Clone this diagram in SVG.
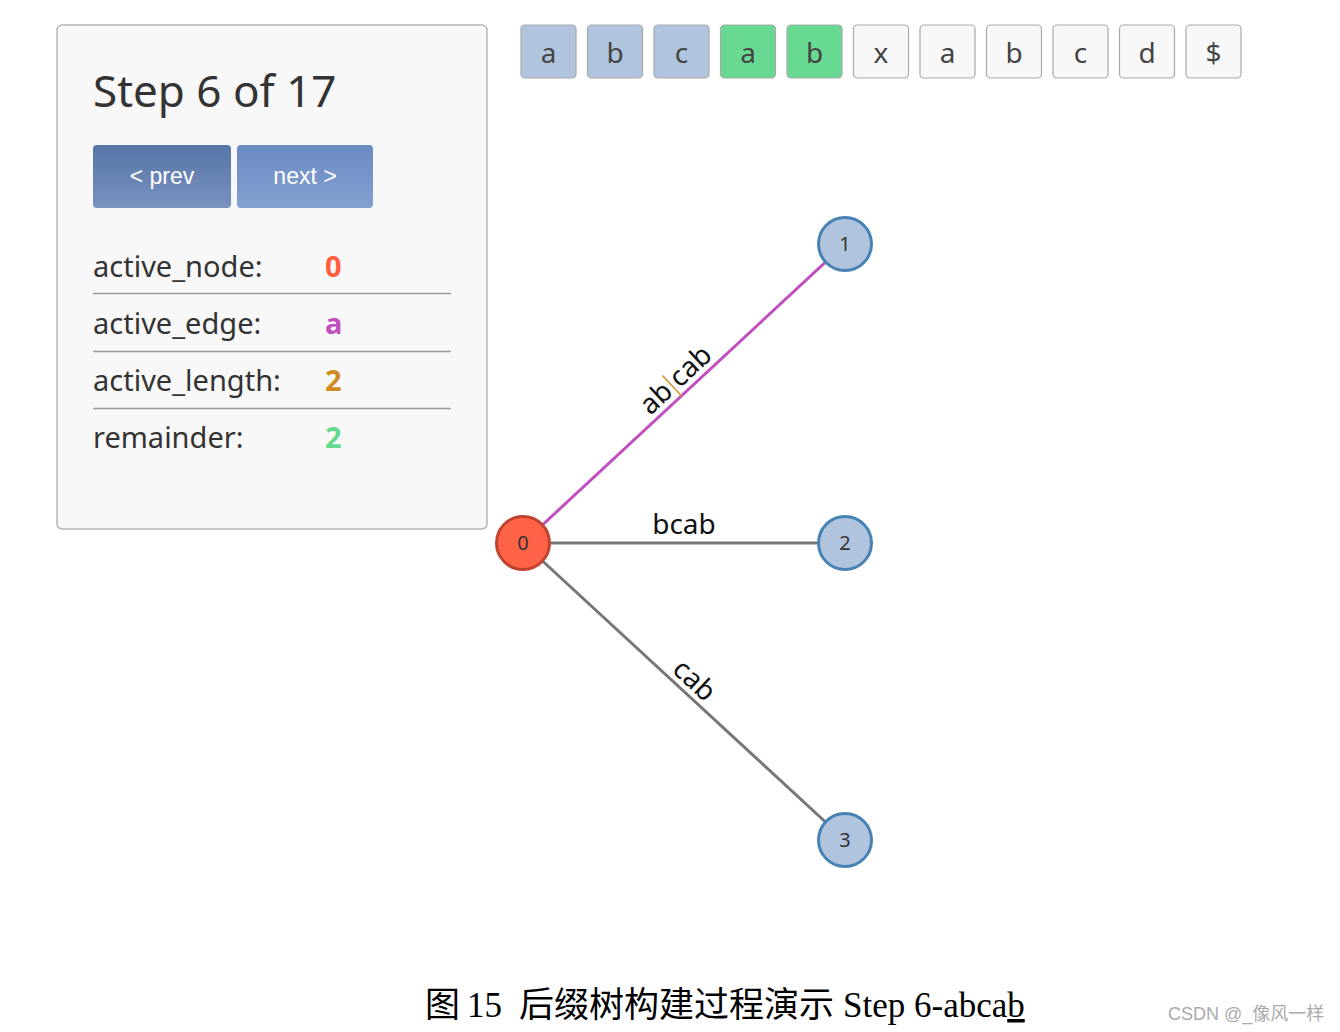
<svg xmlns="http://www.w3.org/2000/svg" width="1340" height="1032" viewBox="0 0 1340 1032">
<style>
.ui{font-family:"Noto Sans","Open Sans",sans-serif;fill:#333}
.btn{font-family:"Liberation Sans",Arial,sans-serif;font-size:23px;fill:#fff;text-anchor:middle}
.row{font-size:29px}
.val{font-family:"Noto Sans",sans-serif;font-size:29px;font-weight:bold}
.sep{stroke:#999;stroke-width:1.5}
.cell{stroke:#aaa;stroke-width:1.2}
.ctext{font-family:"Noto Sans",sans-serif;font-size:28px;fill:#444;text-anchor:middle}
.leaf{fill:#b0c4de;stroke:#4682b4;stroke-width:3}
.ntext{font-family:"Noto Sans",sans-serif;font-size:20px;fill:#333;text-anchor:middle}
.edge{stroke-width:3;fill:none}
.elabel{font-family:"Noto Sans",sans-serif;font-size:28px;fill:#111;text-anchor:middle}
</style>
<defs>
<linearGradient id="gPrev" x1="0" y1="0" x2="0" y2="1"><stop offset="0" stop-color="#5675a8"/><stop offset="1" stop-color="#7a92c0"/></linearGradient>
<linearGradient id="gNext" x1="0" y1="0" x2="0" y2="1"><stop offset="0" stop-color="#6a8ac2"/><stop offset="1" stop-color="#84a0d0"/></linearGradient>
</defs>
<rect width="1340" height="1032" fill="#fff"/>

<g id="panel">
<rect x="57" y="25" width="430" height="504" rx="5" fill="#f8f8f8" stroke="#b5b5b5" stroke-width="1.5"/>
<text class="ui" x="93" y="107" font-size="44">Step 6 of 17</text>
<rect x="93" y="145" width="138" height="63" rx="4" fill="url(#gPrev)"/>
<text class="btn" x="162" y="184">&lt; prev</text>
<rect x="237" y="145" width="136" height="63" rx="4" fill="url(#gNext)"/>
<text class="btn" x="305" y="184">next &gt;</text>
<text class="ui row" x="93" y="277">active_node:</text>
<text class="val" x="325" y="277" fill="#ff5f3f">0</text>
<line class="sep" x1="93" y1="293.5" x2="451" y2="293.5"/>
<text class="ui row" x="93" y="334">active_edge:</text>
<text class="val" x="325" y="334" fill="#c050c0">a</text>
<line class="sep" x1="93" y1="351.5" x2="451" y2="351.5"/>
<text class="ui row" x="93" y="391">active_length:</text>
<text class="val" x="325" y="391" fill="#d08c20">2</text>
<line class="sep" x1="93" y1="408.5" x2="451" y2="408.5"/>
<text class="ui row" x="93" y="448">remainder:</text>
<text class="val" x="325" y="448" fill="#66d98f">2</text>
</g>

<g id="string">
<rect class="cell" x="521" y="25" width="55" height="53" rx="4" fill="#b0c4de"/><text class="ctext" x="548.5" y="63">a</text>
<rect class="cell" x="587.5" y="25" width="55" height="53" rx="4" fill="#b0c4de"/><text class="ctext" x="615" y="63">b</text>
<rect class="cell" x="654" y="25" width="55" height="53" rx="4" fill="#b0c4de"/><text class="ctext" x="681.5" y="63">c</text>
<rect class="cell" x="720.5" y="25" width="55" height="53" rx="4" fill="#68d992"/><text class="ctext" x="748" y="63">a</text>
<rect class="cell" x="787" y="25" width="55" height="53" rx="4" fill="#68d992"/><text class="ctext" x="814.5" y="63">b</text>
<rect class="cell" x="853.5" y="25" width="55" height="53" rx="4" fill="#f8f8f8"/><text class="ctext" x="881" y="63">x</text>
<rect class="cell" x="920" y="25" width="55" height="53" rx="4" fill="#f8f8f8"/><text class="ctext" x="947.5" y="63">a</text>
<rect class="cell" x="986.5" y="25" width="55" height="53" rx="4" fill="#f8f8f8"/><text class="ctext" x="1014" y="63">b</text>
<rect class="cell" x="1053" y="25" width="55" height="53" rx="4" fill="#f8f8f8"/><text class="ctext" x="1080.5" y="63">c</text>
<rect class="cell" x="1119.5" y="25" width="55" height="53" rx="4" fill="#f8f8f8"/><text class="ctext" x="1147" y="63">d</text>
<rect class="cell" x="1186" y="25" width="55" height="53" rx="4" fill="#f8f8f8"/><text class="ctext" x="1213.5" y="63">$</text>
</g>

<g id="edges">
<line class="edge" x1="523" y1="543" x2="845" y2="244" stroke="#c050c0"/>
<line class="edge" x1="523" y1="543" x2="845" y2="543" stroke="#777"/>
<line class="edge" x1="523" y1="543" x2="845" y2="840" stroke="#777"/>
<text class="elabel" transform="translate(686,391) rotate(-42.9)" y="-6">ab<tspan dx="-4" fill="#d09020" font-weight="300">|</tspan><tspan dx="-4">cab</tspan></text>
<text class="elabel" x="684" y="534">bcab</text>
<text class="elabel" transform="translate(684,691.5) rotate(42.7)" y="-6">cab</text>
</g>

<g id="node0"><circle cx="523" cy="543" r="26.5" fill="#ff6347" stroke="#c0432f" stroke-width="3"/><text class="ntext" x="523" y="550">0</text></g>
<g id="node1"><circle class="leaf" cx="845" cy="244" r="26.5"/><text class="ntext" x="845" y="251">1</text></g>
<g id="node2"><circle class="leaf" cx="845" cy="543" r="26.5"/><text class="ntext" x="845" y="550">2</text></g>
<g id="node3"><circle class="leaf" cx="845" cy="840" r="26.5"/><text class="ntext" x="845" y="847">3</text></g>

<g id="caption">
<text font-family="'Liberation Serif','Noto Sans CJK SC',serif" font-size="35" fill="#000" y="1017"><tspan x="425">图</tspan><tspan x="467">15</tspan><tspan x="519">后缀树构建过程演示</tspan><tspan x="843">Step 6-abca</tspan><tspan text-decoration="underline">b</tspan></text>
<text x="1168" y="1020" font-family="'Liberation Sans','Noto Sans CJK SC',sans-serif" font-size="18" fill="#aaa">CSDN @_像风一样</text>
</g>
</svg>
